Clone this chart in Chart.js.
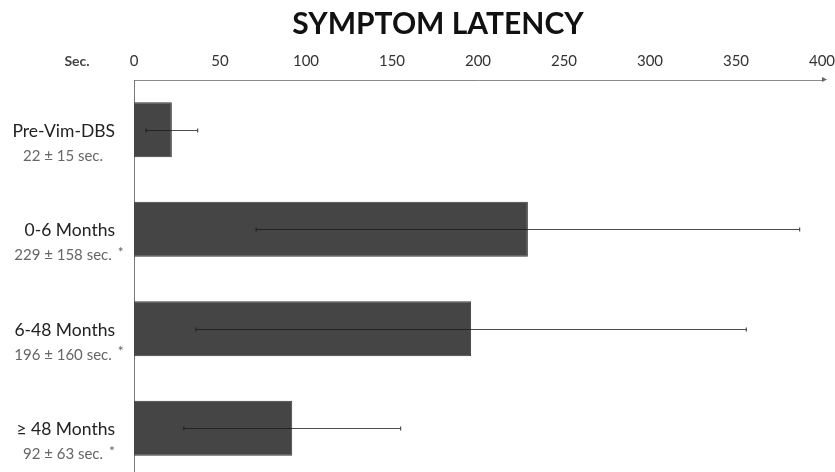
<!DOCTYPE html>
<html>
<head>
<meta charset="utf-8">
<script src="https://cdn.jsdelivr.net/npm/chart.js@4/dist/chart.umd.min.js"></script>
<style>
  html, body { margin: 0; padding: 0; background: #fff; overflow: hidden; }
  #wrap { width: 835px; height: 472px; overflow: hidden; position: relative; }
  canvas { display: block; }
</style>
</head>
<body>
<div id="wrap"><canvas id="chart" width="835" height="478"></canvas></div>
<script>
// Symptom latency per period (seconds): mean and standard deviation
const categories = ['Pre-Vim-DBS', '0-6 Months', '6-48 Months', '\u2265 48 Months'];
const meanSec = [22, 229, 196, 92];
const sdSec = [15, 158, 160, 63];
const significant = [false, true, true, true];
const xTicks = [0, 50, 100, 150, 200, 250, 300, 350, 400];
const titleText = 'SYMPTOM LATENCY';
const unitText = 'Sec.';

const FONT = 'Lato, "Open Sans", sans-serif';

// Title, unit label, two-line category labels, error bars and the axis arrow
const decorations = {
  id: 'decorations',
  afterDatasetsDraw(chart) {
    const { ctx, scales: { x, y } } = chart;
    ctx.save();

    // error bars
    ctx.strokeStyle = 'rgba(25,25,25,0.78)';
    ctx.lineWidth = 1.2;
    meanSec.forEach((m, i) => {
      const cy = Math.round(y.getPixelForValue(i)) + 0.5;
      const x0 = x.getPixelForValue(m - sdSec[i]);
      const x1 = x.getPixelForValue(m + sdSec[i]);
      ctx.beginPath();
      ctx.moveTo(x0, cy); ctx.lineTo(x1, cy);
      ctx.moveTo(x0, cy - 2); ctx.lineTo(x0, cy + 2);
      ctx.moveTo(x1, cy - 2); ctx.lineTo(x1, cy + 2);
      ctx.stroke();
    });

    // arrow head at the end of the value axis
    const ay = x.bottom - 0.5;
    const ax = x.right + 2;
    ctx.fillStyle = '#666';
    ctx.beginPath();
    ctx.moveTo(ax + 3, ay);
    ctx.lineTo(ax - 2, ay - 2.5);
    ctx.lineTo(ax - 2, ay + 2.5);
    ctx.closePath();
    ctx.fill();

    // title
    ctx.fillStyle = '#111';
    ctx.font = 'bold 30px ' + FONT;
    ctx.textAlign = 'center';
    ctx.textBaseline = 'middle';
    ctx.fillText(titleText, 438, 24);

    // unit label
    ctx.fillStyle = '#444';
    ctx.font = 'bold 14px ' + FONT;
    ctx.fillText(unitText, 77, 61);

    // category labels with mean ± sd line
    categories.forEach((c, i) => {
      const cy = y.getPixelForValue(i);
      ctx.fillStyle = '#222';
      ctx.font = '17.5px ' + FONT;
      ctx.textAlign = 'right';
      ctx.textBaseline = 'middle';
      ctx.fillText(c, 115, cy + 1.5);

      const sub = meanSec[i] + ' \u00b1 ' + sdSec[i] + ' sec.';
      ctx.fillStyle = '#666';
      ctx.font = '15px ' + FONT;
      ctx.textAlign = 'center';
      ctx.fillText(sub, 63, cy + 26);
      if (significant[i]) {
        const w = ctx.measureText(sub).width;
        ctx.textAlign = 'left';
        ctx.font = '14px ' + FONT;
        ctx.fillText('*', 63 + w / 2 + 6, cy + 23);
      }
    });
    ctx.restore();
  }
};

new Chart(document.getElementById('chart'), {
  type: 'bar',
  data: {
    labels: categories,
    datasets: [{
      data: meanSec,
      backgroundColor: '#454545',
      borderColor: '#3a3a3a',
      borderWidth: 1,
      categoryPercentage: 1,
      barPercentage: 0.555
    }]
  },
  options: {
    indexAxis: 'y',
    responsive: false,
    animation: false,
    layout: { padding: { top: 0, right: 13, bottom: 0, left: 0 } },
    plugins: {
      legend: { display: false },
      tooltip: { enabled: false },
      title: { display: false }
    },
    scales: {
      x: {
        position: 'top',
        min: 0,
        max: 400,
        afterBuildTicks(scale) { scale.ticks = xTicks.map(v => ({ value: v })); },
        afterFit(scale) { scale.height = 80; scale.paddingLeft = 0; scale.paddingRight = 0; },
        grid: { display: false, drawTicks: false },
        border: { display: true, color: '#8a8a8a', width: 1 },
        ticks: { color: '#333', font: { family: FONT, size: 15 }, padding: 10, maxRotation: 0 }
      },
      y: {
        afterFit(scale) { scale.width = 134; },
        grid: { display: false, drawTicks: false },
        border: { display: true, color: '#777', width: 1 },
        ticks: { display: false }
      }
    }
  },
  plugins: [decorations]
});
</script>
</body>
</html>
